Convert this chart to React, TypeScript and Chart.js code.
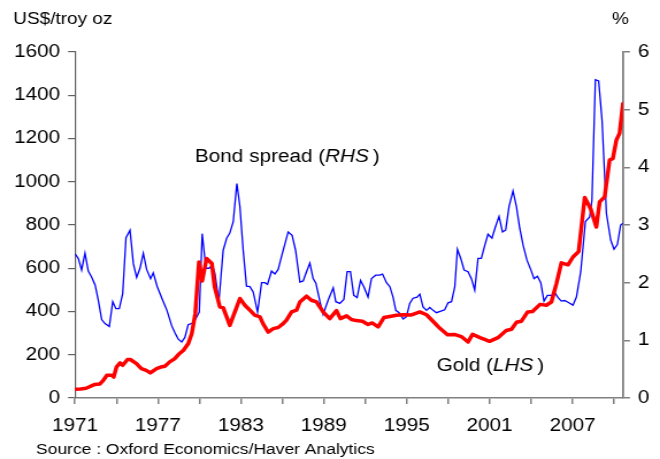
import { useEffect, useRef } from "react";
import { Chart, registerables } from "chart.js";

Chart.register(...registerables);

// ---- Data ----
const goldYears = [
  1971.0, 1971.4, 1971.8, 1972.4, 1972.8, 1973.05, 1973.3, 1973.65, 1973.8, 1974.0,
  1974.25, 1974.45, 1974.8, 1975.0, 1975.45, 1975.8, 1976.15, 1976.45, 1976.9, 1977.2,
  1977.5, 1977.85, 1978.2, 1978.5, 1978.85, 1979.2, 1979.45, 1979.7, 1979.97, 1980.2,
  1980.52, 1980.9, 1981.1, 1981.48, 1981.72, 1982.2, 1982.93, 1983.29, 1983.65, 1984.0,
  1984.38, 1984.6, 1984.98, 1985.34, 1985.7, 1986.06, 1986.3, 1986.67, 1987.03, 1987.27,
  1987.75, 1988.1, 1988.47, 1988.95, 1989.43, 1989.92, 1990.2, 1990.65, 1991.0, 1991.35,
  1991.8, 1992.2, 1992.5, 1992.93, 1993.35, 1993.78, 1994.25, 1994.74, 1995.35, 1995.95,
  1996.43, 1996.9, 1997.4, 1997.95, 1998.45, 1998.95, 1999.44, 1999.76, 2000.3, 2001.0,
  2001.6, 2002.2, 2002.58, 2002.94, 2003.3, 2003.75, 2004.1, 2004.65, 2005.1, 2005.47,
  2005.83, 2006.19, 2006.67, 2007.03, 2007.44, 2007.88, 2008.3, 2008.72, 2008.96, 2009.32,
  2009.68, 2009.92, 2010.17, 2010.4, 2010.65,
];
const goldPrice = [
  40, 42, 45, 62, 65, 82, 105, 105, 97, 143,
  162, 151, 178, 178, 159, 136, 128, 116, 136, 143,
  147, 167, 181, 202, 221, 252, 298, 390, 629, 541,
  645, 622, 514, 421, 418, 336, 460, 429, 406, 383,
  375, 344, 305, 321, 326, 344, 360, 398, 406, 444,
  471, 452, 444, 398, 367, 404, 367, 380, 363, 358,
  355, 340, 347, 329, 372, 377, 383, 385, 384, 398,
  385, 355, 322, 292, 294, 284, 259, 295, 279, 262,
  279, 312, 318, 350, 355, 398, 400, 433, 429, 444,
  529, 625, 616, 652, 677, 927, 876, 791, 907, 930,
  1100, 1108, 1193, 1224, 1362,
];

const spreadYears = [
  1971.0, 1971.24, 1971.48, 1971.72, 1971.96, 1972.2, 1972.45, 1972.68, 1972.93, 1973.17,
  1973.48, 1973.73, 1973.96, 1974.2, 1974.45, 1974.69, 1974.98, 1975.22, 1975.46, 1975.7,
  1975.94, 1976.18, 1976.47, 1976.66, 1976.95, 1977.3, 1977.65, 1978.0, 1978.23, 1978.47,
  1978.72, 1978.95, 1979.19, 1979.51, 1979.75, 1979.99, 1980.2, 1980.47, 1980.7, 1980.93,
  1981.12, 1981.41, 1981.72, 1981.97, 1982.2, 1982.45, 1982.71, 1982.93, 1983.17, 1983.41,
  1983.65, 1983.89, 1984.21, 1984.5, 1984.74, 1984.93, 1985.22, 1985.46, 1985.7, 1986.06,
  1986.42, 1986.71, 1986.96, 1987.27, 1987.51, 1987.75, 1987.99, 1988.23, 1988.43, 1988.72,
  1988.95, 1989.32, 1989.68, 1989.87, 1990.16, 1990.45, 1990.69, 1990.93, 1991.17, 1991.41,
  1991.66, 1991.9, 1992.2, 1992.45, 1992.76, 1993.05, 1993.25, 1993.54, 1993.78, 1994.01,
  1994.21, 1994.45, 1994.74, 1994.98, 1995.22, 1995.46, 1995.75, 1995.95, 1996.18, 1996.43,
  1996.67, 1996.91, 1997.15, 1997.52, 1997.75, 1997.99, 1998.24, 1998.48, 1998.67, 1998.91,
  1999.15, 1999.44, 1999.68, 1999.92, 2000.16, 2000.4, 2000.65, 2000.88, 2001.17, 2001.42,
  2001.68, 2001.93, 2002.16, 2002.4, 2002.69, 2002.94, 2003.18, 2003.42, 2003.7, 2003.97,
  2004.21, 2004.46, 2004.7, 2004.93, 2005.18, 2005.47, 2005.71, 2005.95, 2006.19, 2006.43,
  2006.67, 2007.03, 2007.28, 2007.59, 2007.93, 2008.24, 2008.4, 2008.65, 2008.89, 2009.13,
  2009.45, 2009.76, 2010.0, 2010.24, 2010.48, 2010.65,
];
const spreadPct = [
  2.5, 2.42, 2.22, 2.51, 2.2, 2.1, 1.96, 1.7, 1.36, 1.29,
  1.24, 1.67, 1.55, 1.55, 1.81, 2.78, 2.91, 2.33, 2.09, 2.25,
  2.51, 2.23, 2.07, 2.17, 1.93, 1.72, 1.52, 1.25, 1.13, 1.02,
  0.97, 1.05, 1.27, 1.3, 1.38, 1.49, 2.85, 2.25, 2.25, 2.3,
  2.16, 1.67, 2.56, 2.77, 2.86, 3.06, 3.72, 3.32, 2.56, 1.94,
  1.93, 1.84, 1.49, 2.0, 2.0, 1.97, 2.2, 2.15, 2.23, 2.56,
  2.88, 2.82, 2.56, 2.01, 2.03, 2.19, 2.34, 2.07, 1.99, 1.67,
  1.45, 1.7, 1.91, 1.67, 1.64, 1.71, 2.19, 2.19, 1.78, 1.74,
  2.04, 1.93, 1.75, 2.07, 2.13, 2.13, 2.15, 2.0, 1.93, 1.75,
  1.52, 1.48, 1.37, 1.41, 1.64, 1.73, 1.75, 1.8, 1.58, 1.52,
  1.57, 1.52, 1.48, 1.51, 1.53, 1.65, 1.67, 1.93, 2.58, 2.42,
  2.22, 2.19, 2.07, 1.87, 2.42, 2.42, 2.65, 2.84, 2.77, 2.97,
  3.15, 2.88, 2.91, 3.32, 3.59, 3.32, 2.94, 2.65, 2.39, 2.23,
  2.07, 2.11, 2.0, 1.68, 1.78, 1.78, 1.83, 1.74, 1.68, 1.69,
  1.66, 1.61, 1.75, 2.19, 3.06, 3.14, 3.43, 5.52, 5.5, 4.82,
  3.2, 2.74, 2.58, 2.66, 3.0, 3.03,
];

const xTickYears = [1971, 1974, 1977, 1980, 1983, 1986, 1989, 1992, 1995, 1998, 2001, 2004, 2007, 2010];
const xLabelYears = [1971, 1977, 1983, 1989, 1995, 2001, 2007];
const leftTicks = [0, 200, 400, 600, 800, 1000, 1200, 1400, 1600];
const rightTicks = [0, 1, 2, 3, 4, 5, 6];

const X_MIN = 1971;
const X_MAX = 2010.65;

// ---- Layout ----
const W = 574;
const H = 459;
const S = 660 / W; // horizontal stretch of the whole picture
const FONT = "'Liberation Sans', Arial, sans-serif";

const textPlugin = {
  id: "texts",
  afterDraw(chart: any) {
    const ctx = chart.ctx as CanvasRenderingContext2D;
    ctx.save();
    ctx.fillStyle = "#000";
    ctx.textBaseline = "alphabetic";
    ctx.textAlign = "left";

    ctx.font = `16.5px ${FONT}`;
    ctx.fillText("US$/troy oz", 13.3 / S, 23.5);
    ctx.textAlign = "center";
    ctx.fillText("%", 620.5 / S, 24);
    ctx.textAlign = "left";

    const drawLabel = (x: number, y: number, pre: string, it: string) => {
      ctx.font = `18px ${FONT}`;
      ctx.fillText(pre, x, y);
      let cx = x + ctx.measureText(pre).width;
      ctx.font = `italic 18px ${FONT}`;
      ctx.fillText(it, cx, y);
      cx += ctx.measureText(it).width + 3.5;
      ctx.font = `18px ${FONT}`;
      ctx.fillText(")", cx, y);
    };
    drawLabel(195 / S, 162, "Bond spread (", "RHS");
    drawLabel(436.7 / S, 370.7, "Gold (", "LHS");

    ctx.font = `15.2px ${FONT}`;
    ctx.fillText("Source : Oxford Economics/Haver Analytics", 36 / S, 453.5);
    ctx.restore();
  },
};

export default function App() {
  const ref = useRef<HTMLCanvasElement | null>(null);

  useEffect(() => {
    if (!ref.current) return;
    const chart = new Chart(ref.current, {
      type: "line",
      data: {
        datasets: [
          {
            label: "Gold",
            data: goldYears.map((x, i) => ({ x, y: goldPrice[i] })),
            yAxisID: "y",
            borderColor: "#ff0000",
            backgroundColor: "#ff0000",
            borderWidth: 3.5,
            pointRadius: 0,
            tension: 0,
            borderJoinStyle: "round",
            borderCapStyle: "round",
          },
          {
            label: "Bond spread",
            data: spreadYears.map((x, i) => ({ x, y: spreadPct[i] })),
            yAxisID: "y2",
            borderColor: "#0000ff",
            backgroundColor: "#0000ff",
            borderWidth: 1.3,
            pointRadius: 0,
            tension: 0,
          },
        ],
      },
      options: {
        responsive: false,
        animation: false,
        devicePixelRatio: 1,
        layout: { padding: { top: 52, left: 0, right: 0, bottom: 0 } },
        plugins: {
          legend: { display: false },
          tooltip: { enabled: false },
        },
        scales: {
          x: {
            type: "linear",
            min: X_MIN,
            max: X_MAX,
            afterBuildTicks: (s: any) => {
              s.ticks = xTickYears.map((v) => ({ value: v }));
            },
            afterFit: (s: any) => {
              s.height = H - 398;
            },
            grid: {
              drawOnChartArea: false,
              drawTicks: true,
              tickLength: 6,
              color: "#808080",
              lineWidth: 1.5,
            },
            border: { color: "#808080", width: 1.5 },
            ticks: {
              autoSkip: false,
              maxRotation: 0,
              padding: 11,
              color: "#000",
              font: { family: FONT, size: 18 },
              callback: (v: any) => (xLabelYears.includes(Number(v)) ? String(v) : ""),
            },
          },
          y: {
            type: "linear",
            position: "left",
            min: 0,
            max: 1600,
            afterBuildTicks: (s: any) => {
              s.ticks = leftTicks.map((v) => ({ value: v }));
            },
            afterFit: (s: any) => {
              s.width = 75 / S;
            },
            grid: {
              drawOnChartArea: false,
              drawTicks: true,
              tickLength: 6,
              color: "#606060",
              lineWidth: 1.2,
            },
            border: { color: "#606060", width: 1.2 },
            ticks: {
              padding: 7,
              color: "#000",
              font: { family: FONT, size: 18 },
              callback: (v: any) => String(v),
            },
          },
          y2: {
            type: "linear",
            position: "right",
            min: 0,
            max: 6,
            afterBuildTicks: (s: any) => {
              s.ticks = rightTicks.map((v) => ({ value: v }));
            },
            afterFit: (s: any) => {
              s.width = W - 623 / S;
            },
            grid: {
              drawOnChartArea: false,
              drawTicks: true,
              tickLength: 6,
              color: "#808080",
              lineWidth: 1.5,
            },
            border: { color: "#808080", width: 1.8 },
            ticks: {
              padding: 7,
              color: "#000",
              font: { family: FONT, size: 18 },
              callback: (v: any) => String(v),
            },
          },
        },
      } as any,
      plugins: [textPlugin],
    });
    return () => chart.destroy();
  }, []);

  return (
    <div
      style={{
        position: "fixed",
        left: 0,
        top: 0,
        width: 660,
        height: 459,
        overflow: "hidden",
        background: "#fff",
      }}
    >
      <canvas
        ref={ref}
        width={W}
        height={H}
        style={{
          width: W,
          height: H,
          display: "block",
          transform: `scaleX(${S})`,
          transformOrigin: "0 0",
        }}
      />
    </div>
  );
}
